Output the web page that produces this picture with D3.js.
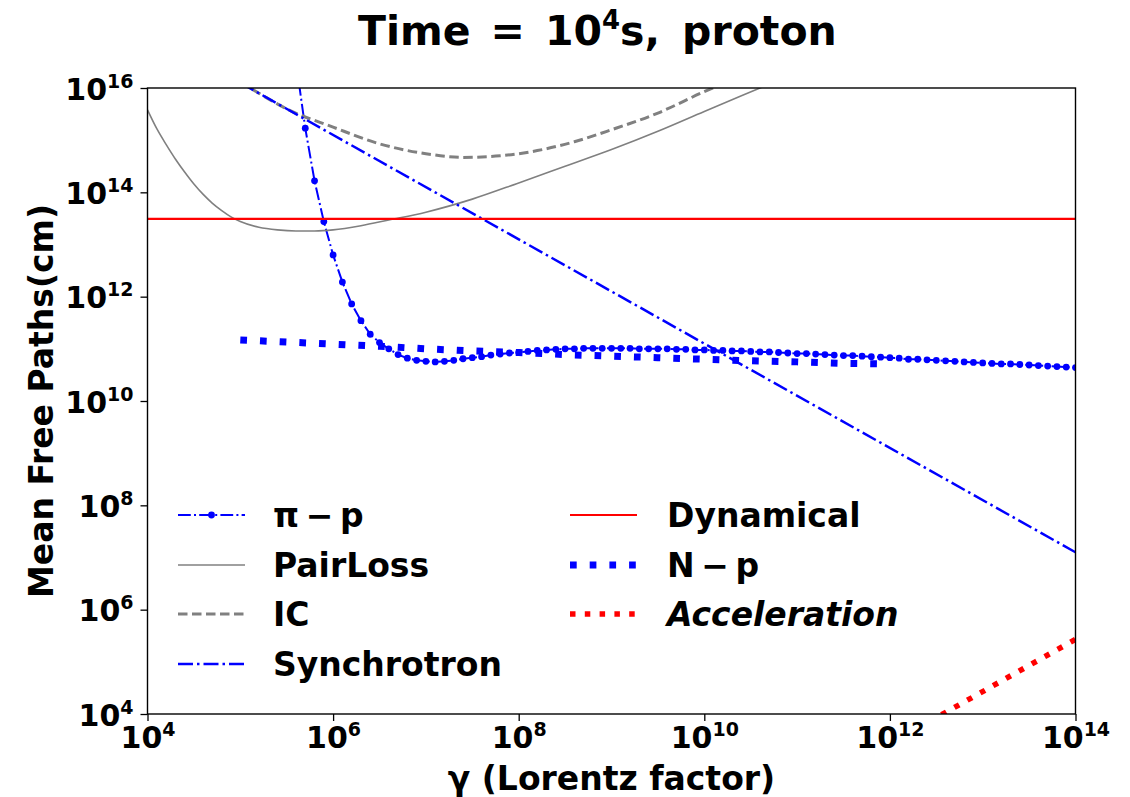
<!DOCTYPE html>
<html><head><meta charset="utf-8">
<script src="https://cdn.jsdelivr.net/npm/d3@7/dist/d3.min.js"></script>
<style>
body{margin:0;background:#fff}
svg{display:block;font-family:"DejaVu Sans",sans-serif}
</style>
</head><body>
<svg id="chart" width="1130" height="797"></svg>
<script>
// ---------- data (log10 values) ----------
const xTickExponents = [4, 6, 8, 10, 12, 14];
const yTickExponents = [4, 6, 8, 10, 12, 14, 16];

const piPLogGamma = [5.6,5.7,5.8,5.9,6.0,6.1,6.2,6.3,6.4,6.5,6.6,6.7,6.8,6.9,7.0,7.1,7.2,7.3,7.4,7.5,7.6,7.7,7.8,7.9,
  8.0,8.1,8.2,8.3,8.4,8.5,8.6,8.7,8.8,8.9,9.0,9.1,9.2,9.3,9.4,9.5,9.6,9.7,9.8,9.9,10.0,10.1,10.2,10.3,10.4,10.5,
  10.6,10.7,10.8,10.9,11.0,11.1,11.2,11.3,11.4,11.5,11.6,11.7,11.8,11.9,12.0,12.1,12.2,12.3,12.4,12.5,12.6,12.7,
  12.8,12.9,13.0,13.1,13.2,13.3,13.4,13.5,13.6,13.7,13.8,13.9,14.0];
const piPLogMFP = [16.5,15.23,14.22,13.44,12.8,12.28,11.86,11.54,11.28,11.12,11.0,10.89,10.82,10.78,10.76,10.75,10.76,10.78,10.81,10.83,10.85,10.88,10.9,10.92,
  10.93,10.95,10.97,10.98,10.99,11.0,11.0,11.01,11.01,11.01,11.01,11.01,11.01,11.0,11.0,11.0,11.0,10.99,10.99,10.98,10.98,10.97,10.97,10.96,10.96,10.95,
  10.94,10.94,10.93,10.92,10.91,10.91,10.9,10.89,10.88,10.87,10.87,10.86,10.85,10.84,10.83,10.82,10.8,10.8,10.79,10.78,10.77,10.76,
  10.75,10.74,10.73,10.72,10.71,10.71,10.7,10.69,10.68,10.67,10.66,10.65,10.64];

const pairLossLogGamma = [4.0,4.1,4.2,4.3,4.4,4.5,4.6,4.7,4.8,4.9,5.0,5.2,5.4,5.6,5.8,6.0,6.3,6.6,7.0,7.5,8.0,8.5,9.0,9.5,10.0,10.6,11.0];
const pairLossLogMFP   = [15.58,15.22,14.92,14.64,14.39,14.16,13.96,13.79,13.65,13.53,13.44,13.33,13.28,13.26,13.26,13.28,13.36,13.47,13.62,13.87,14.18,14.5,14.82,15.17,15.55,16.0,16.3];

const icLogGamma = [5.0,5.2,5.5,6.0,6.5,7.0,7.4,7.8,8.2,8.6,9.0,9.5,10.0,10.5];
const icLogMFP   = [16.12,15.9,15.6,15.25,14.93,14.74,14.67,14.7,14.8,14.97,15.2,15.52,15.93,16.3];

const synchrotronLogGamma = [5.0, 14.0];
const synchrotronLogMFP   = [16.1, 7.1];

const dynamicalLogGamma = [4.0, 14.0];
const dynamicalLogMFP   = [13.49, 13.49];

const npLogGamma = [5.0,5.5,6.0,6.5,7.0,7.5,8.0,8.5,9.0,9.5,10.0,10.5,11.0,11.5,11.95];
const npLogMFP   = [11.17,11.13,11.09,11.05,11.0,10.96,10.93,10.89,10.86,10.83,10.8,10.77,10.75,10.72,10.71];

const accelLogGamma = [12.0, 14.0];
const accelLogMFP   = [3.43, 5.43];

const legendLabels = ["π\u2009−\u2009p", "PairLoss", "IC", "Synchrotron", "Dynamical", "N\u2009−\u2009p", "Acceleration"];

// ---------- layout ----------
const svg = d3.select("#chart");
const L = 147.5, R = 1075.5, T = 88, B = 714;
const x = d3.scaleLog().domain([1e4, 1e14]).range([L, R]);
const y = d3.scaleLog().domain([1e4, 1e16]).range([B, T]);

const pairs = (g, v) => g.map((d, i) => [Math.pow(10, d), Math.pow(10, v[i])]);
const line = d3.line().x(d => x(d[0])).y(d => y(d[1]));
const smooth = d3.line().x(d => x(d[0])).y(d => y(d[1])).curve(d3.curveMonotoneX);

svg.append("clipPath").attr("id", "clip").append("rect")
  .attr("x", L).attr("y", T).attr("width", R - L).attr("height", B - T);
const plot = svg.append("g").attr("clip-path", "url(#clip)");

const BLUE = "#0000ff", GRAY = "#808080", RED = "#ff0000";
const styles = {
  pip:  {stroke: BLUE, w: 2,   dash: "12.8,3.2,2,3.2"},
  pair: {stroke: GRAY, w: 1.6, dash: null},
  ic:   {stroke: GRAY, w: 3,   dash: "9.5,4.5"},
  sync: {stroke: BLUE, w: 2.5, dash: "15,4,2.5,4"},
  dyn:  {stroke: RED,  w: 2.2, dash: null},
  np:   {stroke: BLUE, w: 7,   dash: "6.7,13"},
  acc:  {stroke: RED,  w: 5.5, dash: "5.5,9.3"}
};
function styleIt(sel, s) {
  sel.attr("fill", "none").attr("stroke", s.stroke).attr("stroke-width", s.w);
  if (s.dash) sel.attr("stroke-dasharray", s.dash);
  return sel;
}

// pi-p
const piP = pairs(piPLogGamma, piPLogMFP);
styleIt(plot.append("path").datum(piP).attr("d", line), styles.pip);
plot.selectAll("circle.pip").data(piP).join("circle").attr("class", "pip")
  .attr("cx", d => x(d[0])).attr("cy", d => y(d[1])).attr("r", 3.4).attr("fill", BLUE);
// PairLoss
styleIt(plot.append("path").datum(pairs(pairLossLogGamma, pairLossLogMFP)).attr("d", smooth), styles.pair);
// IC
styleIt(plot.append("path").datum(pairs(icLogGamma, icLogMFP)).attr("d", smooth), styles.ic);
// Synchrotron
styleIt(plot.append("path").datum(pairs(synchrotronLogGamma, synchrotronLogMFP)).attr("d", line), styles.sync);
// Dynamical
styleIt(plot.append("path").datum(pairs(dynamicalLogGamma, dynamicalLogMFP)).attr("d", line), styles.dyn);
// N-p
styleIt(plot.append("path").datum(pairs(npLogGamma, npLogMFP)).attr("d", line), styles.np);
// Acceleration
styleIt(plot.append("path").datum(pairs(accelLogGamma, accelLogMFP)).attr("d", line), styles.acc);

// ---------- axes ----------
const xAxis = svg.append("g").attr("transform", `translate(0,${B})`)
  .call(d3.axisBottom(x).tickValues(xTickExponents.map(e => Math.pow(10, e))).tickFormat("").tickSize(7).tickSizeOuter(0));
const yAxis = svg.append("g").attr("transform", `translate(${L},0)`)
  .call(d3.axisLeft(y).tickValues(yTickExponents.map(e => Math.pow(10, e))).tickFormat("").tickSize(7).tickSizeOuter(0));
[xAxis, yAxis].forEach(a => {
  a.select(".domain").remove();
  a.selectAll(".tick line").attr("stroke", "#000").attr("stroke-width", 1.3);
});
function powLabel(g, d, xPos, yPos, anchor) {
  const t = g.append("text").attr("x", xPos).attr("y", yPos).attr("text-anchor", anchor)
    .attr("fill", "#000").attr("font-weight", "bold").attr("font-family", "DejaVu Sans");
  t.append("tspan").attr("font-size", 30).text("10");
  t.append("tspan").attr("font-size", 19).attr("dy", -12).text(Math.round(Math.log10(d)));
}
xAxis.selectAll(".tick").each(function(d) { powLabel(d3.select(this), d, 0, 34, "middle"); });
yAxis.selectAll(".tick").each(function(d) { powLabel(d3.select(this), d, -14, 11, "end"); });

svg.append("rect").attr("x", L).attr("y", T).attr("width", R - L).attr("height", B - T)
  .attr("fill", "none").attr("stroke", "#000").attr("stroke-width", 1.4);

// ---------- labels ----------
svg.append("text").attr("x", (L + R) / 2).attr("y", 790).attr("text-anchor", "middle")
  .attr("font-size", 33).attr("font-weight", "bold").text("γ (Lorentz factor)");
svg.append("text").attr("transform", `translate(53,${(T + B) / 2}) rotate(-90)`).attr("text-anchor", "middle")
  .attr("font-size", 33).attr("font-weight", "bold").text("Mean Free Paths(cm)");

const title = svg.append("text").attr("x", 358).attr("y", 45).attr("font-size", 41).attr("font-weight", "bold");
title.append("tspan").text("Time");
title.append("tspan").attr("dx", 20).text("=");
title.append("tspan").attr("dx", 20).text("10");
title.append("tspan").attr("font-size", 26).attr("dy", -16).text("4");
title.append("tspan").attr("dy", 16).text("s,");
title.append("tspan").attr("dx", 22).text("proton");

// ---------- legend ----------
const legendKinds = ["pip", "pair", "ic", "sync", "dyn", "np", "acc"];
const colX = [178, 570], rowY = [515, 565, 614, 664];
const lg = svg.append("g");
legendLabels.forEach((label, i) => {
  const col = i < 4 ? 0 : 1, row = i < 4 ? i : i - 4;
  const kind = legendKinds[i];
  const x0 = colX[col], y0 = rowY[row], x1 = x0 + 67;
  styleIt(lg.append("line").attr("x1", x0).attr("x2", x1).attr("y1", y0).attr("y2", y0), styles[kind]);
  if (kind === "pip") lg.append("circle").attr("cx", (x0 + x1) / 2).attr("cy", y0).attr("r", 3.4).attr("fill", BLUE);
  lg.append("text").attr("x", col === 0 ? 273 : 667).attr("y", y0 + 12)
    .attr("font-size", 33).attr("font-weight", "bold")
    .attr("font-style", kind === "acc" ? "italic" : "normal").text(label);
});
</script>
</body></html>
